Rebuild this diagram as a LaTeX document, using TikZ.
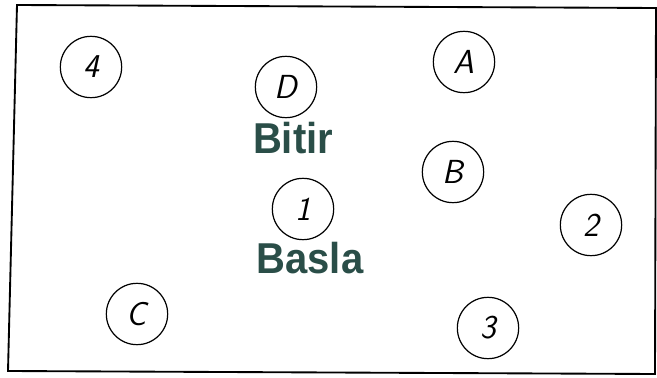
\documentclass[tikz,border=0pt]{standalone}
\usepackage{fontspec}
\newfontfamily\stampfont{Liberation Sans}
\definecolor{stampgreen}{RGB}{42,78,72}

\begin{document}
\begin{tikzpicture}
    [
        x = 0.75pt, y = -0.75pt,
        spot/.style  = {draw, circle, line width = 0.9pt, minimum size = 46pt, inner sep = 0pt,
                        font = \fontsize{25}{25}\selectfont\sffamily\itshape},
        stamp/.style = {anchor = base, text = stampgreen, inner sep = 0pt, yscale = 1.08,
                        font = \fontsize{30}{30}\selectfont\stampfont\bfseries}
    ]
        \useasboundingbox (0,0) rectangle (657,378);

        % frame
        \draw[line width = 1.4pt] (17,5) -- (656,8) -- (655,374) -- (8,371) -- cycle;

        % points
        \node[spot] (n4) at (91,67)   {4};
        \node[spot] (nD) at (286,87)  {D};
        \node[spot] (nA) at (464,62)  {A};
        \node[spot] (nB) at (453,172) {B};
        \node[spot] (n1) at (303,209) {1};
        \node[spot] (n2) at (591,225) {2};
        \node[spot] (nC) at (137,314) {C};
        \node[spot] (n3) at (488,328) {3};

        % labels
        \node[stamp] (bitir) at (293,153) {Bitir};
        \node[stamp] (basla) at (310,273) {Basla};
    \end{tikzpicture}
\end{document}
